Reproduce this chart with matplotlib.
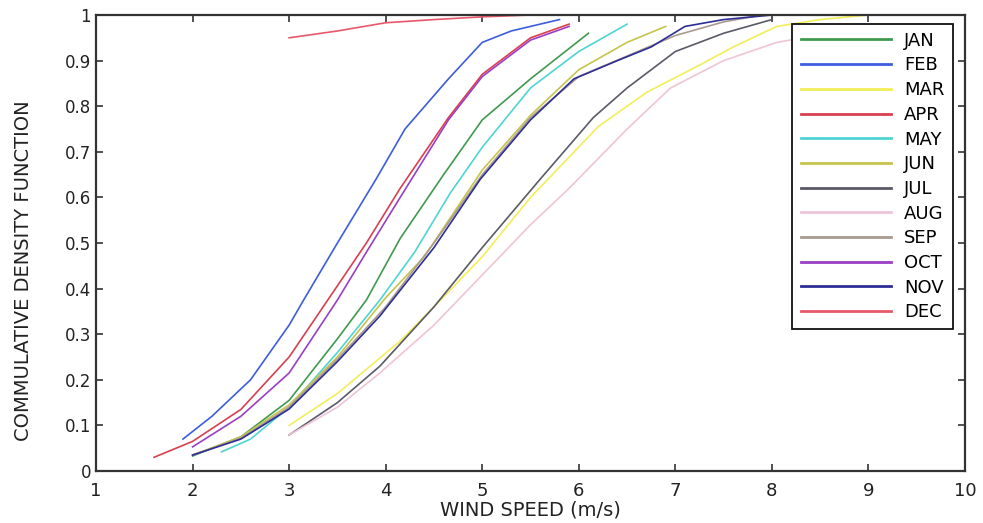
import matplotlib
matplotlib.use("Agg")
import matplotlib.pyplot as plt

# monthly CDF curves (x = wind speed m/s, y = CDF)
months = ["JAN", "FEB", "MAR", "APR", "MAY", "JUN", "JUL", "AUG", "SEP", "OCT", "NOV", "DEC"]

jan_x = [2.0, 2.5, 3.0, 3.5, 3.8, 4.15, 4.6, 5.0, 5.5, 6.1]
jan_y = [0.033, 0.075, 0.155, 0.29, 0.375, 0.51, 0.65, 0.77, 0.86, 0.96]

feb_x = [1.9, 2.2, 2.6, 3.0, 3.15, 3.5, 3.9, 4.2, 4.65, 5.0, 5.3, 5.8]
feb_y = [0.07, 0.12, 0.20, 0.32, 0.375, 0.5, 0.64, 0.75, 0.86, 0.94, 0.965, 0.99]

mar_x = [3.0, 3.5, 4.15, 4.5, 5.0, 5.5, 6.2, 6.7, 7.25, 7.6, 8.05, 8.5, 9.0, 9.6]
mar_y = [0.1, 0.17, 0.285, 0.36, 0.47, 0.6, 0.755, 0.83, 0.89, 0.93, 0.975, 0.99, 1.0, 1.0]

apr_x = [1.6, 2.0, 2.5, 3.0, 3.4, 3.8, 4.15, 4.65, 5.0, 5.5, 5.9]
apr_y = [0.03, 0.065, 0.135, 0.25, 0.375, 0.5, 0.62, 0.775, 0.87, 0.95, 0.98]

may_x = [2.3, 2.6, 3.0, 3.5, 3.94, 4.3, 4.67, 5.0, 5.5, 6.0, 6.5]
may_y = [0.042, 0.07, 0.14, 0.26, 0.375, 0.48, 0.61, 0.71, 0.84, 0.92, 0.98]

jun_x = [2.0, 2.5, 3.0, 3.5, 4.0, 4.4, 5.0, 5.5, 6.0, 6.5, 6.9]
jun_y = [0.035, 0.075, 0.145, 0.25, 0.38, 0.47, 0.66, 0.78, 0.88, 0.94, 0.975]

jul_x = [3.0, 3.5, 3.94, 4.5, 5.0, 5.6, 6.15, 6.5, 7.0, 7.5, 8.0]
jul_y = [0.079, 0.15, 0.23, 0.36, 0.49, 0.64, 0.775, 0.84, 0.92, 0.96, 0.99]

aug_x = [3.0, 3.5, 3.94, 4.5, 5.0, 5.5, 5.9, 6.5, 6.95, 7.5, 8.05, 8.6, 9.0, 9.6]
aug_y = [0.079, 0.14, 0.215, 0.32, 0.43, 0.54, 0.62, 0.75, 0.84, 0.9, 0.94, 0.96, 0.97, 0.98]

sep_x = [2.0, 2.5, 3.0, 3.5, 4.0, 4.5, 5.0, 5.5, 6.0, 6.5, 7.0, 7.5, 7.9]
sep_y = [0.035, 0.072, 0.14, 0.245, 0.36, 0.5, 0.65, 0.775, 0.865, 0.91, 0.955, 0.985, 1.0]

oct_x = [2.0, 2.5, 3.0, 3.5, 3.8, 4.15, 4.65, 5.0, 5.5, 5.9]
oct_y = [0.053, 0.12, 0.215, 0.375, 0.48, 0.6, 0.77, 0.865, 0.945, 0.975]

nov_x = [2.0, 2.5, 3.0, 3.5, 3.94, 4.5, 4.98, 5.5, 5.95, 6.4, 6.75, 7.1, 7.5, 8.0]
nov_y = [0.035, 0.07, 0.136, 0.24, 0.34, 0.49, 0.64, 0.77, 0.86, 0.9, 0.93, 0.975, 0.99, 1.0]

dec_x = [3.0, 3.5, 4.0, 4.5, 5.0, 5.5, 10.0]
dec_y = [0.95, 0.965, 0.983, 0.99, 0.996, 1.0, 1.0]

xs = [jan_x, feb_x, mar_x, apr_x, may_x, jun_x, jul_x, aug_x, sep_x, oct_x, nov_x, dec_x]
ys = [jan_y, feb_y, mar_y, apr_y, may_y, jun_y, jul_y, aug_y, sep_y, oct_y, nov_y, dec_y]
colors = ["#3f9a4f", "#3e5ce0", "#f2ee5a", "#d8404f", "#4fd4d4", "#c6c44c",
          "#5a5a68", "#efc4d6", "#a89a90", "#9a3fc4", "#2e2e96", "#e8586a"]

fig = plt.figure(figsize=(9.83, 5.23), dpi=100)
ax = fig.add_axes([0.0977, 0.0994, 0.8840, 0.8719])

for x, y, c, m in zip(xs, ys, colors, months):
    ax.plot(x, y, color=c, lw=1.2, label=m, clip_on=False)

ax.set_xlim(1, 10)
ax.set_ylim(0, 1)
ax.set_xticks(range(1, 11))
ax.set_yticks([i / 10 for i in range(11)])
ax.set_yticklabels(["0"] + ["0.%d" % i for i in range(1, 10)] + ["1"])
ax.tick_params(direction="in", top=True, right=True, length=5, width=1.2,
               labelsize=12, color="#333333", labelcolor="#222222")
ax.tick_params(axis="x", pad=8, labelsize=13)
for s in ax.spines.values():
    s.set_color("#333333")
    s.set_linewidth(1.6)

ax.set_xlabel("WIND SPEED (m/s)", fontsize=14, color="#222222", labelpad=0)
ax.set_ylabel("COMMULATIVE DENSITY FUNCTION",
              family=["Liberation Sans Narrow", "DejaVu Sans"],
              fontsize=14, color="#222222", labelpad=18)
ax.yaxis.set_label_coords(-0.072, 0.44)

leg = ax.legend(loc="upper right", bbox_to_anchor=(0.986, 0.981), borderaxespad=0,
                fontsize=13, handlelength=5.0, labelspacing=0.37, borderpad=0.45,
                handletextpad=0.75, fancybox=False, framealpha=1)
leg.get_frame().set_edgecolor("#111111")
leg.get_frame().set_linewidth(1.3)
for h in leg.get_lines():
    h.set_linewidth(2)

plt.savefig("out.png", dpi=100)
